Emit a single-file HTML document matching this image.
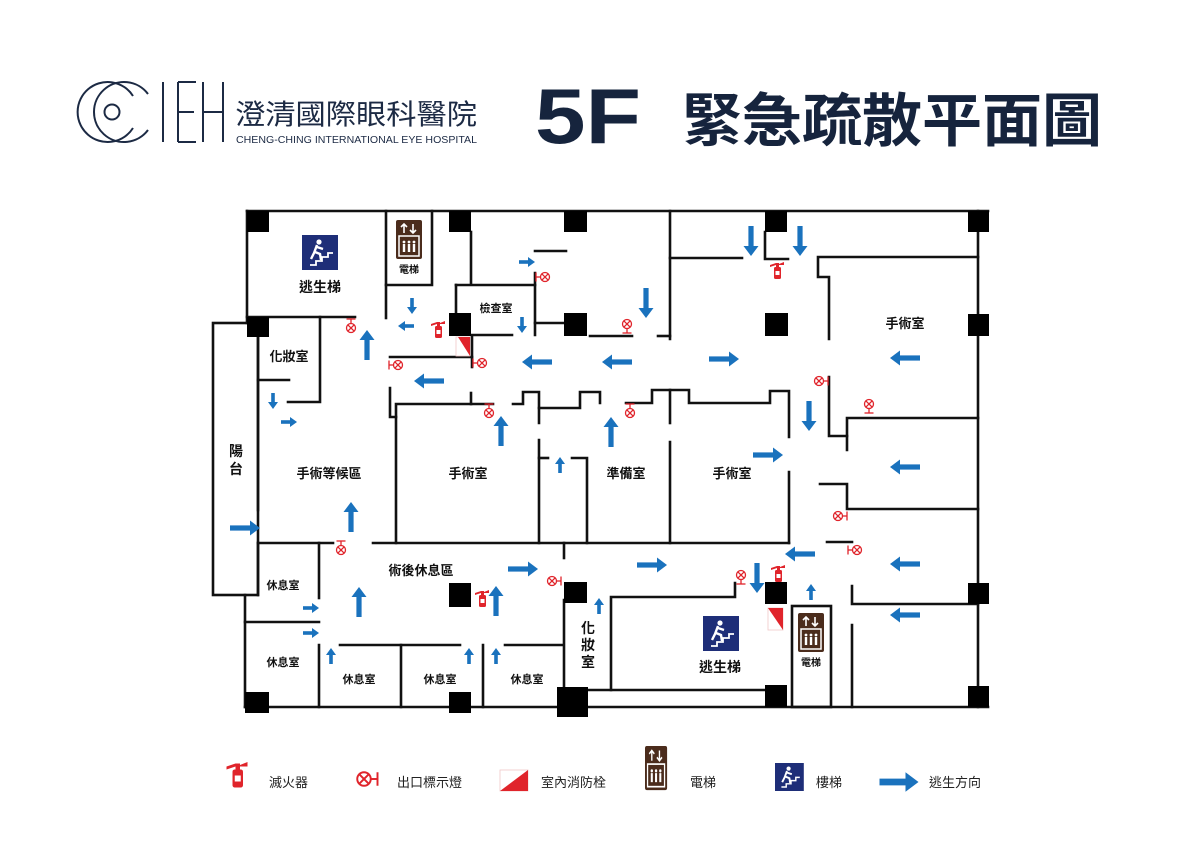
<!DOCTYPE html>
<html><head><meta charset="utf-8"><style>
html,body{margin:0;padding:0;background:#fff;width:1200px;height:849px;overflow:hidden}
svg{display:block}
text{font-family:"Liberation Sans","Noto Sans CJK TC",sans-serif}
</style></head><body>
<svg width="1200" height="849" viewBox="0 0 1200 849" xmlns="http://www.w3.org/2000/svg">
<defs>
<g id="AL"><rect x="-15" y="-2.6" width="21" height="5.2" fill="#1a72bd"/><polygon points="5,-7.5 15,0 5,7.5" fill="#1a72bd"/></g>
<g id="AS"><rect x="-8" y="-1.8" width="10" height="3.6" fill="#1a72bd"/><polygon points="1,-5 8,0 1,5" fill="#1a72bd"/></g>
<g id="EX" stroke="#e0242b" stroke-width="1.3" fill="none"><circle cx="0" cy="0" r="4.5"/><line x1="-3.2" y1="-3.2" x2="3.2" y2="3.2"/><line x1="-3.2" y1="3.2" x2="3.2" y2="-3.2"/><line x1="4.5" y1="0" x2="9" y2="0"/><line x1="9" y1="-4.5" x2="9" y2="4.5"/></g>
<g id="FE" fill="#e0242b"><rect x="-3" y="-3" width="7" height="12" rx="1.5"/><rect x="-1" y="-7" width="3" height="4"/><polygon points="-1,-7 -7,-5 -7,-3 -1,-5"/><polygon points="2,-6 7,-8 7,-5 2,-5"/><rect x="-1.5" y="1" width="4" height="4" fill="#fff"/></g>
<g id="ST"><rect x="0" y="0" width="36" height="35" fill="#1e2e78"/><circle cx="17" cy="7" r="2.6" fill="#fff"/><path d="M15 10 L12 18 L9 24 M13 17 L18 19 L19 25 M15 12 L21 14" stroke="#fff" stroke-width="2.4" fill="none"/><path d="M8 30 L14 30 L14 26 L20 26 L20 22 L26 22 L26 18 L31 18" stroke="#fff" stroke-width="1.8" fill="none"/></g>
<g id="EL"><rect x="0" y="0" width="26" height="39" rx="2" fill="#4b2c1c"/><path d="M8 4 L8 13 M5 7 L8 4 L11 7 M17 4 L17 13 M14 10 L17 13 L20 10" stroke="#fff" stroke-width="1.6" fill="none"/><rect x="3" y="16" width="20" height="20" fill="none" stroke="#fff" stroke-width="1.5"/><g fill="#fff"><circle cx="8" cy="22" r="1.4"/><circle cx="13" cy="22" r="1.4"/><circle cx="18" cy="22" r="1.4"/><rect x="6.8" y="24" width="2.4" height="8"/><rect x="11.8" y="24" width="2.4" height="8"/><rect x="16.8" y="24" width="2.4" height="8"/></g></g>
</defs>

<!-- Header -->
<g stroke="#1c2a44" fill="none" stroke-width="2">
<path d="M133 96 A30 30 0 1 0 133 128"/>
<path d="M148 94 A30 30 0 1 0 148 130"/>
<circle cx="112" cy="112" r="7.5"/>
<line x1="163" y1="82" x2="163" y2="142"/><line x1="178" y1="82" x2="178" y2="142"/><line x1="178" y1="82" x2="196" y2="82"/><line x1="178" y1="112" x2="194" y2="112"/><line x1="178" y1="142" x2="196" y2="142"/>
<line x1="203" y1="82" x2="203" y2="142"/><line x1="223" y1="82" x2="223" y2="142"/><line x1="203" y1="112" x2="223" y2="112"/>
</g>
<text x="235" y="124" font-size="28" fill="#1c2a44" textLength="242" lengthAdjust="spacingAndGlyphs">澄清國際眼科醫院</text>
<text x="236" y="143" font-size="10" fill="#1c2a44" textLength="241" lengthAdjust="spacingAndGlyphs">CHENG-CHING INTERNATIONAL EYE HOSPITAL</text>
<text x="535" y="143" font-size="78" font-weight="bold" fill="#16243d" textLength="106" lengthAdjust="spacingAndGlyphs">5F</text>
<text x="682" y="141" font-size="58" font-weight="bold" fill="#16243d" textLength="420" lengthAdjust="spacingAndGlyphs">緊急疏散平面圖</text>

<!-- Walls -->
<g stroke="#111" stroke-width="2.6" fill="none" stroke-linecap="square">
<line x1="247" y1="211" x2="988" y2="211"/>
<line x1="978" y1="211" x2="978" y2="707"/>
<line x1="245" y1="707" x2="988" y2="707"/>
<line x1="247" y1="211" x2="247" y2="323"/>
<rect x="213" y="323" width="45" height="272"/>
<line x1="245" y1="595" x2="245" y2="707"/>
<polyline points="386,211 386,285 432,285 432,211"/>
<line x1="247" y1="317" x2="355" y2="317"/>
<line x1="386" y1="285" x2="386" y2="318"/>
<polyline points="320,317 320,402 288,402"/>
<line x1="258" y1="380" x2="289" y2="380"/>
<line x1="258" y1="337" x2="258" y2="510"/>
<line x1="258" y1="543" x2="333" y2="543"/>
<line x1="373" y1="543" x2="789" y2="543"/>
<line x1="258" y1="543" x2="258" y2="595"/>
<line x1="319" y1="543" x2="319" y2="598"/>
<line x1="245" y1="622" x2="319" y2="622"/>
<line x1="319" y1="645" x2="319" y2="707"/>
<line x1="340" y1="645" x2="460" y2="645"/>
<line x1="505" y1="645" x2="563" y2="645"/>
<line x1="401" y1="645" x2="401" y2="707"/>
<line x1="483" y1="645" x2="483" y2="707"/>
<line x1="564" y1="543" x2="564" y2="558"/>
<line x1="564" y1="600" x2="564" y2="687"/>
<line x1="456" y1="285" x2="456" y2="313"/>
<line x1="456" y1="285" x2="535" y2="285"/>
<line x1="535" y1="273" x2="535" y2="335"/>
<line x1="535" y1="251" x2="566" y2="251"/>
<line x1="535" y1="323" x2="563" y2="323"/>
<line x1="472" y1="335" x2="512" y2="335"/>
<line x1="471" y1="232" x2="471" y2="283"/>
<line x1="390" y1="357" x2="472" y2="357"/>
<line x1="472" y1="337" x2="472" y2="367"/>
<polyline points="390,388 390,417 396,417"/>
<polyline points="396,543 396,404 493,404"/>
<line x1="471" y1="393" x2="471" y2="404"/>
<polyline points="513,404 523,404 523,392 539,392 539,423"/>
<polyline points="539,408 580,408 580,392 600,392 600,403"/>
<line x1="539" y1="440" x2="539" y2="543"/>
<line x1="539" y1="458" x2="548" y2="458"/>
<polyline points="572,458 587,458 587,543"/>
<line x1="670" y1="211" x2="670" y2="339"/>
<line x1="670" y1="258" x2="742" y2="258"/>
<line x1="590" y1="336" x2="632" y2="336"/>
<line x1="658" y1="336" x2="670" y2="336"/>
<polyline points="765,232 765,259 788,259"/>
<polyline points="978,257 818,257 818,277 829,277 829,339"/>
<polyline points="829,377 829,436 847,436"/>
<polyline points="847,450 847,418 978,418"/>
<polyline points="820,484 847,484 847,509 978,509"/>
<line x1="827" y1="542" x2="852" y2="542"/>
<polyline points="852,586 852,604 978,604"/>
<line x1="852" y1="625" x2="852" y2="707"/>
<rect x="792" y="606" width="39" height="101"/>
<polyline points="626,403 652,403 652,390 689,390 689,403 770,403 770,391 789,391 789,437"/>
<line x1="670" y1="390" x2="670" y2="423"/>
<line x1="670" y1="442" x2="670" y2="543"/>
<line x1="789" y1="472" x2="789" y2="543"/>
<polyline points="735,583 735,597 611,597 611,690"/>
<line x1="587" y1="690" x2="765" y2="690"/>
</g>

<!-- Columns -->
<g fill="#000">
<rect x="247" y="211" width="22" height="21"/><rect x="449" y="211" width="22" height="21"/><rect x="564" y="211" width="23" height="21"/><rect x="765" y="211" width="22" height="21"/><rect x="968" y="211" width="21" height="21"/>
<rect x="247" y="317" width="22" height="20"/><rect x="449" y="313" width="22" height="23"/><rect x="564" y="313" width="23" height="23"/><rect x="765" y="313" width="23" height="23"/><rect x="968" y="314" width="21" height="22"/>
<rect x="449" y="583" width="22" height="24"/><rect x="564" y="582" width="23" height="21"/><rect x="765" y="582" width="22" height="22"/><rect x="968" y="583" width="21" height="21"/>
<rect x="245" y="692" width="24" height="21"/><rect x="449" y="692" width="22" height="21"/><rect x="557" y="687" width="31" height="30"/><rect x="765" y="685" width="22" height="22"/><rect x="968" y="686" width="21" height="21"/>
</g>

<!-- Hydrants -->
<rect x="456" y="337" width="14" height="19" fill="#fff" stroke="#f0c8c8" stroke-width="0.8"/><polygon points="458,337 470,337 470,356" fill="#e0242b"/>
<rect x="768" y="608" width="15" height="22" fill="#fff" stroke="#f0c8c8" stroke-width="0.8"/><polygon points="768,608 783,608 783,630" fill="#e0242b"/>

<!-- Icons -->
<use href="#ST" transform="translate(302,235)"/>
<use href="#EL" transform="translate(396,220)"/>
<use href="#ST" transform="translate(703,616)"/>
<use href="#EL" transform="translate(798,613)"/>

<!-- Labels -->
<g font-size="13" fill="#111" text-anchor="middle" font-weight="bold">
<text x="320" y="292" font-size="14">逃生梯</text>
<text x="409" y="273" font-size="10">電梯</text>
<text x="496" y="312" font-size="11">檢查室</text>
<text x="289" y="361">化妝室</text>
<text x="329" y="478">手術等候區</text>
<text x="468" y="478">手術室</text>
<text x="626" y="478">準備室</text>
<text x="732" y="478">手術室</text>
<text x="905" y="328">手術室</text>
<text x="421" y="575">術後休息區</text>
<text x="283" y="589" font-size="11">休息室</text>
<text x="283" y="666" font-size="11">休息室</text>
<text x="359" y="683" font-size="11">休息室</text>
<text x="440" y="683" font-size="11">休息室</text>
<text x="527" y="683" font-size="11">休息室</text>
<text x="720" y="672" font-size="14">逃生梯</text>
<text x="811" y="666" font-size="10">電梯</text>
<text x="588" y="633" font-size="14">化</text><text x="588" y="650" font-size="14">妝</text><text x="588" y="667" font-size="14">室</text>
<text x="236" y="456" font-size="14">陽</text><text x="236" y="474" font-size="14">台</text>
</g>

<!-- Arrows -->
<use href="#AS" transform="translate(412,306) rotate(90)"/>
<use href="#AS" transform="translate(406,326) rotate(180)"/>
<use href="#AL" transform="translate(367,345) rotate(-90)"/>
<use href="#AL" transform="translate(429,381) rotate(180)"/>
<use href="#AL" transform="translate(501,431) rotate(-90)"/>
<use href="#AS" transform="translate(273,401) rotate(90)"/>
<use href="#AS" transform="translate(289,422)"/>
<use href="#AL" transform="translate(245,528)"/>
<use href="#AL" transform="translate(351,517) rotate(-90)"/>
<use href="#AL" transform="translate(359,602) rotate(-90)"/>
<use href="#AS" transform="translate(311,608)"/>
<use href="#AS" transform="translate(311,633)"/>
<use href="#AS" transform="translate(331,656) rotate(-90)"/>
<use href="#AS" transform="translate(469,656) rotate(-90)"/>
<use href="#AS" transform="translate(496,656) rotate(-90)"/>
<use href="#AL" transform="translate(496,601) rotate(-90)"/>
<use href="#AL" transform="translate(523,569)"/>
<use href="#AS" transform="translate(599,606) rotate(-90)"/>
<use href="#AS" transform="translate(527,262)"/>
<use href="#AS" transform="translate(522,325) rotate(90)"/>
<use href="#AL" transform="translate(537,362) rotate(180)"/>
<use href="#AL" transform="translate(617,362) rotate(180)"/>
<use href="#AL" transform="translate(646,303) rotate(90)"/>
<use href="#AL" transform="translate(611,432) rotate(-90)"/>
<use href="#AS" transform="translate(560,465) rotate(-90)"/>
<use href="#AL" transform="translate(724,359)"/>
<use href="#AL" transform="translate(751,241) rotate(90)"/>
<use href="#AL" transform="translate(800,241) rotate(90)"/>
<use href="#AL" transform="translate(905,358) rotate(180)"/>
<use href="#AL" transform="translate(809,416) rotate(90)"/>
<use href="#AL" transform="translate(768,455)"/>
<use href="#AL" transform="translate(905,467) rotate(180)"/>
<use href="#AL" transform="translate(652,565)"/>
<use href="#AL" transform="translate(800,554) rotate(180)"/>
<use href="#AL" transform="translate(757,578) rotate(90)"/>
<use href="#AS" transform="translate(811,592) rotate(-90)"/>
<use href="#AL" transform="translate(905,564) rotate(180)"/>
<use href="#AL" transform="translate(905,615) rotate(180)"/>

<!-- Exit signs -->
<use href="#EX" transform="translate(351,328) rotate(-90)"/>
<use href="#EX" transform="translate(398,365) rotate(180)"/>
<use href="#EX" transform="translate(482,363) rotate(180)"/>
<use href="#EX" transform="translate(545,277) rotate(180)"/>
<use href="#EX" transform="translate(489,413) rotate(-90)"/>
<use href="#EX" transform="translate(627,324) rotate(90)"/>
<use href="#EX" transform="translate(630,413) rotate(-90)"/>
<use href="#EX" transform="translate(819,381)"/>
<use href="#EX" transform="translate(869,404) rotate(90)"/>
<use href="#EX" transform="translate(838,516)"/>
<use href="#EX" transform="translate(857,550) rotate(180)"/>
<use href="#EX" transform="translate(341,550) rotate(-90)"/>
<use href="#EX" transform="translate(552,581)"/>
<use href="#EX" transform="translate(741,575) rotate(90)"/>

<!-- Extinguishers -->
<use href="#FE" transform="translate(438,329)"/>
<use href="#FE" transform="translate(482,598)"/>
<use href="#FE" transform="translate(777,270)"/>
<use href="#FE" transform="translate(778,573)"/>

<!-- Legend -->
<use href="#FE" transform="translate(237,774) scale(1.5)"/>
<text x="269" y="787" font-size="13" fill="#222">滅火器</text>
<use href="#EX" transform="translate(364,779) scale(1.5)"/>
<text x="397" y="787" font-size="13" fill="#222">出口標示燈</text>
<rect x="500" y="770" width="28" height="21" fill="#fff" stroke="#f0c8c8" stroke-width="0.8"/><polygon points="500,791 528,770 528,791" fill="#e0242b"/>
<text x="541" y="787" font-size="13" fill="#222">室內消防栓</text>
<use href="#EL" transform="translate(645,746) scale(0.85,1.13)"/>
<text x="690" y="787" font-size="13" fill="#222">電梯</text>
<use href="#ST" transform="translate(775,763) scale(0.8)"/>
<text x="816" y="787" font-size="13" fill="#222">樓梯</text>
<use href="#AL" transform="translate(899,782) scale(1.3)"/>
<text x="929" y="787" font-size="13" fill="#222">逃生方向</text>
</svg>
</body></html>
